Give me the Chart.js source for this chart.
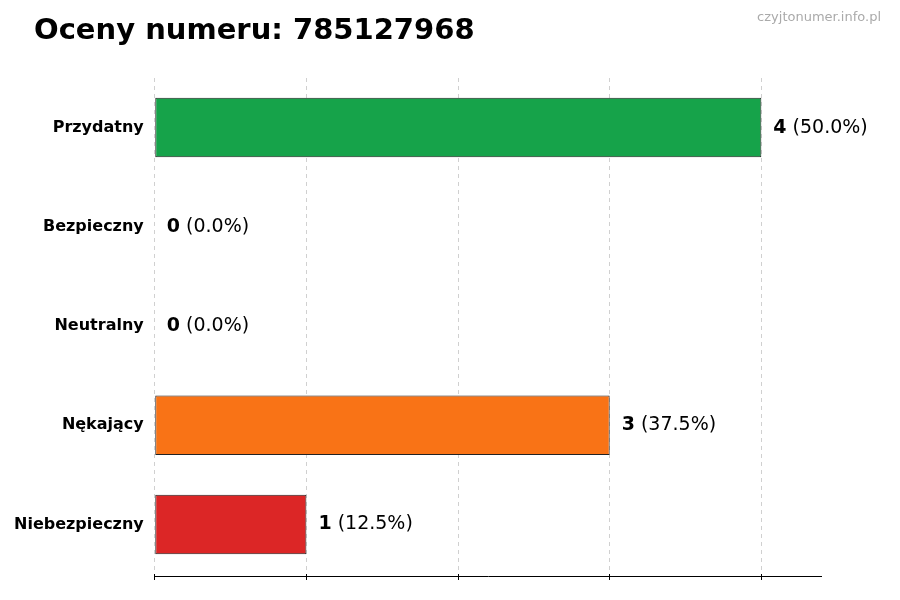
<!DOCTYPE html>
<html><head><meta charset="utf-8">
<script src="https://cdn.jsdelivr.net/npm/chart.js@4/dist/chart.umd.min.js"></script>
<style>html,body{margin:0;padding:0;background:#fff}#w{position:relative;width:900px;height:600px}</style>
</head><body><div id="w"><canvas id="c" width="900" height="600"></canvas></div>
<script>
const categories = ["Przydatny","Bezpieczny","Neutralny","Nękający","Niebezpieczny"];
const counts = [4,0,0,3,1];
const percents = ["50.0%","0.0%","0.0%","37.5%","12.5%"];
const colors = ["#16a34a","#16a34a","#9ca3af","#f97316","#dc2626"];
const title = "Oceny numeru: 785127968";
const watermark = "czyjtonumer.info.pl";

const deco = {
  id:'deco',
  afterDraw(ch){
    const c=ch.ctx, x=ch.scales.x, y=ch.scales.y;
    c.save();
    c.fillStyle='#000'; c.font='bold 29px "DejaVu Sans"'; c.textBaseline='middle'; c.textAlign='left';
    c.fillText(title,34,31);
    c.fillStyle='#aaa'; c.font='13px "DejaVu Sans"'; c.textAlign='right';
    c.fillText(watermark,881,18);
    c.textAlign='left';
    counts.forEach((v,i)=>{
      const px=x.getPixelForValue(v)+12, py=y.getPixelForValue(i);
      c.fillStyle='#000'; c.font='bold 19px "DejaVu Sans"';
      const t=String(v); c.fillText(t,px,py);
      const w=c.measureText(t).width;
      c.font='19px "DejaVu Sans"'; c.fillText(' ('+percents[i]+')',px+w,py);
    });
    // bottom axis line
    c.strokeStyle='#000'; c.lineWidth=1;
    c.beginPath(); c.moveTo(x.left,ch.chartArea.bottom+2.5); c.lineTo(x.right,ch.chartArea.bottom+2.5); c.stroke();
    c.restore();
  }
};

new Chart(document.getElementById('c'),{
  type:'bar',
  data:{labels:categories,datasets:[{data:counts,backgroundColor:colors,borderColor:'#222',borderWidth:1,borderSkipped:false,barPercentage:0.6,categoryPercentage:1}]},
  options:{
    indexAxis:'y',responsive:false,animation:false,
    layout:{padding:{top:78,right:78,bottom:20,left:8}},
    plugins:{legend:{display:false},tooltip:{enabled:false}},
    scales:{
      x:{min:0,max:4.4,afterBuildTicks(s){s.ticks=[0,1,2,3,4].map(v=>({value:v}));},
        ticks:{display:false},
        grid:{color:'#d0d0d0',tickColor:'#000',tickLength:6,drawTicks:true,tickBorderDash:[],},
        border:{display:false,dash:[4,4]}},
      y:{grid:{display:false,drawTicks:true,tickLength:5,tickColor:'#000'},border:{display:false},
        ticks:{color:'#000',font:{family:'DejaVu Sans',weight:'bold',size:16},padding:6}}
    }
  },
  plugins:[deco]
});
</script></body></html>
